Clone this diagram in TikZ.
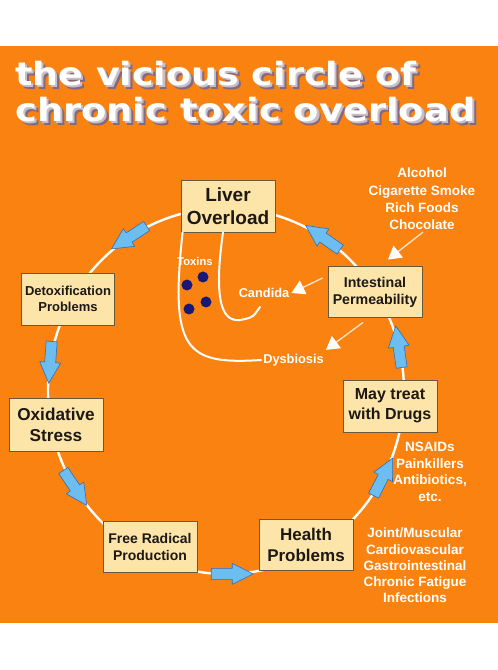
\documentclass[tikz,border=0pt]{standalone}
\usepackage{fontspec}
\setmainfont{Liberation Sans}
\newfontfamily\titlefont{DejaVu Sans}
\usepackage{tikz}
\usetikzlibrary{arrows.meta,calc}
\definecolor{bgorange}{RGB}{249,130,16}
\definecolor{boxfill}{RGB}{253,228,168}
\definecolor{boxline}{RGB}{105,88,62}
\definecolor{boxtext}{RGB}{28,24,20}
\definecolor{arrowfill}{RGB}{108,190,240}
\definecolor{arrowline}{RGB}{48,108,188}
\definecolor{dotblue}{RGB}{26,24,118}
\definecolor{shadowdark}{RGB}{132,104,126}
\definecolor{shadowlight}{RGB}{200,190,198}
% white letters with a stepped shadow behind them
\newcommand{\extruded}[1]{\makebox[0pt][l]{\hspace{3.5pt}\raisebox{-3.5pt}{\color{shadowdark}#1}}\makebox[0pt][l]{\hspace{1.8pt}\raisebox{-1.8pt}{\color{shadowlight}#1}}#1}
\tikzset{stage/.style={draw=boxline,fill=boxfill,line width=0.9pt,minimum width=94pt,minimum height=52pt,align=center,text=boxtext,inner sep=2pt},
  note/.style={text=white,align=center,inner sep=2pt},
  titletext/.style={anchor=base west,inner sep=0pt,text=white,font=\titlefont\bfseries\fontsize{32}{32}\selectfont},
  ring/.style={white,line width=2.4pt},
  thread/.style={white,line width=2pt,line cap=round},
  whitearrow/.style={white!80!bgorange,line width=1.3pt,-{Triangle[width=15pt,length=13pt,fill=white,color=white]}},
  bluearrow/.pic={\draw[fill=arrowfill,draw=arrowline,line width=0.6pt,line join=round] (-21,-5.5) -- (0,-5.5) -- (0,-10.5) -- (21,0) -- (0,10.5) -- (0,5.5) -- (-21,5.5) -- cycle;}}

\begin{document}
\begin{tikzpicture}[x=1pt,y=1pt,line join=round]
\useasboundingbox (0,0) rectangle (498,670);
\fill[white] (0,0) rectangle (498,670);
\fill[bgorange] (0,47) rectangle (498,624);
% --- title
\node[titletext] (title1) at (15,584) {\scalebox{1.14}[1]{\extruded{the vicious circle of}}};
\node[titletext] (title2) at (15,548) {\scalebox{1.15}[1]{\extruded{chronic toxic overload}}};
% --- the circle
\coordinate (hub) at (226,279);
\draw[ring] (hub) ellipse (178 and 183);
% --- stages
\node[stage,font=\bfseries\fontsize{19}{22.5}\selectfont] (liver) at (228,464) {Liver\\Overload};
\node[stage,font=\bfseries\fontsize{14.2}{17}\selectfont,minimum height=51pt] (intest) at (375,378) {Intestinal\\Permeability};
\node[stage,font=\bfseries\fontsize{16}{20}\selectfont] (drugs) at (390,264) {May treat\\with Drugs};
\node[stage,font=\bfseries\fontsize{17}{21}\selectfont,minimum height=51pt] (health) at (306,125) {Health\\Problems};
\node[stage,font=\bfseries\fontsize{14}{17}\selectfont,minimum height=51pt] (radical) at (150,123) {Free Radical\\Production};
\node[stage,font=\bfseries\fontsize{17.2}{21}\selectfont,minimum height=53pt] (oxid) at (56,245) {Oxidative\\Stress};
\node[stage,font=\bfseries\fontsize{13}{16.5}\selectfont,minimum width=93pt] (detox) at (68,371) {Detoxification\\Problems};
% --- blue arrows round the circle
\pic[rotate=213] at ($(hub)+(123:178 and 183)$) {bluearrow};
\pic[rotate=266] at ($(hub)+(171:178 and 183)$) {bluearrow};
\pic[rotate=304] at ($(hub)+(212:178 and 183)$) {bluearrow};
\pic[rotate=0] at ($(hub)+(272:178 and 183)$) {bluearrow};
\pic[rotate=63] at ($(hub)+(332:178 and 183)$) {bluearrow};
\pic[rotate=98] at ($(hub)+(14:178 and 183)$) {bluearrow};
\pic[rotate=145] at ($(hub)+(57:178 and 183)$) {bluearrow};
% --- inside the circle
\node[note,font=\bfseries\fontsize{11.2}{13}\selectfont] (toxins) at (195,408) {Toxins};
\node[note,font=\bfseries\fontsize{12.8}{15}\selectfont] (candida) at (264,377) {Candida};
\node[note,font=\bfseries\fontsize{12.8}{15}\selectfont] (dysbiosis) at (293.5,310) {Dysbiosis};
\fill[dotblue] (187,385) circle (5.5); \fill[dotblue] (203,393) circle (5.5);
\fill[dotblue] (206,368) circle (5.5); \fill[dotblue] (189,361) circle (5.5);
\draw[thread] ($(liver.south west)+(2,0)$) .. controls (170,320) and (185,305) .. (dysbiosis.west);
\draw[thread] ($(liver.south)+(-5,0)$) .. controls (212,360) and (225,345) .. (245,351) .. controls (253,353) .. (260,363);
% --- causes and lists
\node[note,font=\bfseries\fontsize{13.5}{17.3}\selectfont] (triggers) at (422,471) {Alcohol\\Cigarette Smoke\\Rich Foods\\Chocolate};
\node[note,font=\bfseries\fontsize{13.5}{16.7}\selectfont] (meds) at (430,198) {NSAIDs\\Painkillers\\Antibiotics,\\etc.};
\node[note,font=\bfseries\fontsize{13.5}{16.3}\selectfont] (ills) at (415,104.5) {Joint/Muscular\\Cardiovascular\\Gastrointestinal\\Chronic Fatigue\\Infections};
\draw[whitearrow] ($(triggers.south)+(1,0)$) -- ($(intest.north)+(13,6.5)$);
\draw[whitearrow] ($(intest.west)+(-5,14)$) -- (candida.east);
\draw[whitearrow] ($(intest.south)+(-12,-4.5)$) -- ($(dysbiosis.north east)+(0,2)$);
\end{tikzpicture}
\end{document}
